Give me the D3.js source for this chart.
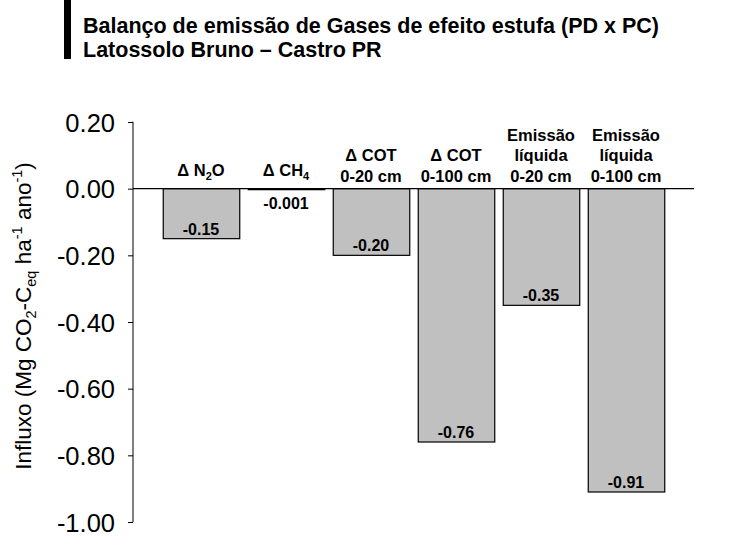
<!DOCTYPE html>
<html>
<head>
<meta charset="utf-8">
<script src="https://cdn.jsdelivr.net/npm/d3@7"></script>
<style>
    body { margin: 0; background: #fff; }
    svg { display: block; font-family: 'Liberation Sans', Arial, sans-serif; }
</style>
</head>
<body>
<svg width="752" height="537"></svg>
<script>
// categorias (linhas do rótulo; _n = subscrito)
const categories = ['n2o', 'ch4', 'cot20', 'cot100', 'liq20', 'liq100'];
const categoryLines = [
    ['Δ N_2O'],
    ['Δ CH_4'],
    ['Δ COT', '0-20 cm'],
    ['Δ COT', '0-100 cm'],
    ['Emissão', 'líquida', '0-20 cm'],
    ['Emissão', 'líquida', '0-100 cm'],
];
const values = [-0.15, -0.001, -0.2, -0.76, -0.35, -0.91];
const valueLabels = ['-0.15', '-0.001', '-0.20', '-0.76', '-0.35', '-0.91'];
const yTicks = [0.2, 0, -0.2, -0.4, -0.6, -0.8, -1.0];
const titleLines = [
    'Balanço de emissão de Gases de efeito estufa (PD x PC)',
    'Latossolo Bruno – Castro PR',
];

const svg = d3.select('svg');

const xScale = d3.scaleBand().domain(categories).range([133, 694]).paddingInner(0.1).paddingOuter(0.35);
const yScale = d3.scaleLinear().domain([-1, 0.2]).range([522, 122]);

// título + barra preta
svg.append('rect').attr('x', 64).attr('y', 0).attr('width', 7).attr('height', 59).attr('fill', '#000');
svg.append('g')
    .selectAll('text')
    .data(titleLines)
    .join('text')
    .attr('x', 83)
    .attr('y', (d, i) => 33 + i * 24)
    .attr('font-size', 21.5)
    .attr('font-weight', 'bold')
    .text((d) => d);

// eixo y
const yAxis = d3.axisLeft(yScale).tickValues(yTicks).tickSize(5).tickFormat(d3.format('.2f'));
const yAxisG = svg.append('g').attr('transform', 'translate(133,0)').call(yAxis);
yAxisG.select('.domain').attr('d', `M-0.5,${yScale(0.2)}H0V${yScale(-1)}H-0.5`).attr('stroke', '#000');
yAxisG.selectAll('.tick line').attr('stroke', '#000');
yAxisG.selectAll('.tick text')
    .attr('font-family', "'Liberation Sans', Arial, sans-serif")
    .attr('font-size', 25.5)
    .attr('fill', '#000')
    .attr('x', -18)
    .attr('dy', '0.36em')
    .text((d) => d3.format('.2f')(d).replace('−', '-'));

// título do eixo y
const yLabel = svg.append('text')
    .attr('transform', `translate(31,${(yScale(0.2) + yScale(-1)) / 2 - 6}) rotate(-90)`)
    .attr('text-anchor', 'middle')
    .attr('font-size', 22.5);
yLabel.append('tspan').text('Influxo (Mg CO');
yLabel.append('tspan').attr('font-size', 14.5).attr('dy', 5).text('2');
yLabel.append('tspan').attr('dy', -5).text('-C');
yLabel.append('tspan').attr('font-size', 14.5).attr('dy', 5).text('eq');
yLabel.append('tspan').attr('dy', -5).text(' ha');
yLabel.append('tspan').attr('font-size', 14.5).attr('dy', -9).text('-1');
yLabel.append('tspan').attr('dy', 9).text(' ano');
yLabel.append('tspan').attr('font-size', 14.5).attr('dy', -9).text('-1');
yLabel.append('tspan').attr('dy', 9).text(')');

// barras
svg.append('g')
    .selectAll('rect')
    .data(values)
    .join('rect')
    .attr('x', (d, i) => xScale(categories[i]) + 0.5)
    .attr('y', yScale(0))
    .attr('width', xScale.bandwidth())
    .attr('height', (d) => Math.max(yScale(d) - yScale(0), 1))
    .attr('fill', '#c0c0c0')
    .attr('stroke', '#000')
    .attr('stroke-width', 1.2);

// linha do zero
svg.append('line')
    .attr('x1', 133).attr('x2', 694)
    .attr('y1', yScale(0)).attr('y2', yScale(0))
    .attr('stroke', '#000')
    .attr('stroke-width', 1.2);

// valores
svg.append('g')
    .selectAll('text')
    .data(values)
    .join('text')
    .attr('x', (d, i) => xScale(categories[i]) + xScale.bandwidth() / 2)
    .attr('y', (d) => (yScale(d) - yScale(0) < 20 ? yScale(0) + 20 : yScale(d) - 4))
    .attr('text-anchor', 'middle')
    .attr('font-size', 16)
    .attr('font-weight', 'bold')
    .text((d, i) => valueLabels[i]);

// rótulos das categorias
const catG = svg.append('g').attr('font-size', 16.5).attr('font-weight', 'bold').attr('text-anchor', 'middle');
categoryLines.forEach((lines, i) => {
    const cx = xScale(categories[i]) + xScale.bandwidth() / 2;
    const last = lines.length === 1 ? yScale(0) - 13 : yScale(0) - 7;
    lines.forEach((line, j) => {
        const t = catG.append('text').attr('x', cx).attr('y', last - (lines.length - 1 - j) * 20.5);
        line.split(/_(\d)/).forEach((part, k) => {
            if (k % 2 === 1) {
                t.append('tspan').attr('font-size', 11).attr('dy', 4).text(part);
            } else if (part) {
                t.append('tspan').attr('dy', k ? -4 : 0).text(part);
            }
        });
    });
});
</script>
</body>
</html>
